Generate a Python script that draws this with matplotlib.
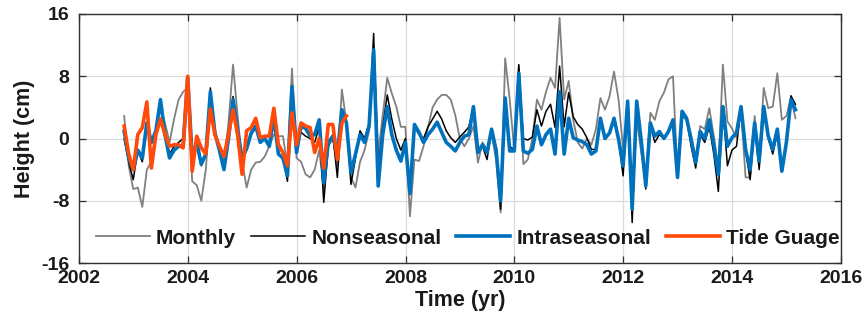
import numpy as np
import matplotlib
matplotlib.use("Agg")
import matplotlib.pyplot as plt

plt.rcParams['font.family'] = ['Liberation Sans', 'DejaVu Sans']
plt.rcParams['axes.unicode_minus'] = False

# monthly sampling: first month and number of months
start_year = 2002.83
months_per_year = 12

monthly = [
    2.9, -3.5, -6.5, -6.3, -8.8, -4, -3, 1, 4, 2, -0.5, 2.5,
    5, 6, 6.5, -5.5, -6, -8, -4, 4.5, 1, -1, -3, 2,
    9.5, 3, -3, -6.3, -4, -3.1, -3, -2.3, -1, 0.5, 0.3, 0.3,
    -3.5, 9, -2.5, -3, -4.6, -5, -4, -1.5, -6.5, -1, 0, -3.5,
    6.3, 2, -5, -6.3, -3, -1.5, 1, 11, -2, 3, 7.8, 5.8,
    4.1, 1.5, 1.5, -10, -2.7, -2.9, -1, 1.5, 4, 5, 5.6, 5.6,
    5, 3, 0, -1, 0, 1.6, -3.1, -0.5, -1.5, 0.5, -2.7, -9.5,
    10.3, 5, -1.5, 9.3, -3.3, -2.7, 0, 5, 3.7, 6, 7.8, 6.5,
    15.5, 5, 7.4, 2.4, -0.5, -1.3, 0, -0.8, 1.2, 5.2, 3.7, 5.4,
    8.6, 5, -1.4, 3.7, -9, 2.4, -1.8, -5.7, 3.3, 2.4, 4.8, 5.9,
    7.6, 8, -4.8, 2.8, 2.4, 0.3, -2.9, 1.6, 1.2, 3.9, 0.3, -4,
    9.5, 2.2, 1.3, 0.1, 3.7, -5, -5, 2.9, -2.9, 6.5, 3.9, 4.1,
    8.4, 2.4, 2.9, 5.2, 2.6,
]

nonseasonal = [
    -0.1, -3, -5.3, -1.5, -3, 1.5, -0.5, 1, 5, 0.5, -2, -1,
    -0.5, 0, 7.8, -2.5, -1, -3.5, -2, 6.5, 1, -1.5, -3.8, 0.5,
    5.4, 1.5, -2.5, -1.5, 0.5, 1.5, -0.5, 0, -1, 2.5, -2, -2.5,
    -5.5, 6.5, -0.3, 0.8, 0.3, 0, -0.5, 1.5, -8.2, -1, 0.5, -5,
    3.5, 2, -5.9, -2.5, 1, 0, 2, 13.5, -4, 1.5, 5.6, 2.5,
    0, -1.5, 0, -7.2, 1.5, 0.5, 0, 1.5, 2.5, 3.5, 2.5, 1,
    0.1, -0.5, 0.2, 0.8, 1.5, 4, -1.5, -1, -2.7, 1, -1.5, -9.1,
    5, -1, -1.5, 9.5, 0, -0.2, 0.2, 3.7, 1.6, 3.5, 4.4, 1.4,
    9.3, 1.5, 5.9, 2.8, 1.8, 1.2, 0.1, -1.4, -1.4, 2.4, -0.1, 0.7,
    2.5, -0.2, -4.8, 4.8, -10.8, 4.8, -0.3, -6.5, 1.7, -0.5, 0.5, 0,
    0.8, 2.4, -5, 3.5, 2.4, -1, -3.8, 0.5, -0.5, 1.5, -2, -6.8,
    4, -3.5, -1.5, -1, 4, -1.5, -5.3, 1.5, -4, 4, 0, -2,
    0.8, -4.2, -0.5, 5.5, 4.4,
]

intraseasonal = [
    0.9, -2.5, -4, -1.5, -2.5, 2, -0.5, 1, 5, 0.5, -2.5, -1.5,
    -1, -1, 7.8, -2.5, -0.5, -3.3, -2, 6, 0.7, -1.5, -4, 0,
    5, 1, -2.5, -1.3, 0.7, 1.6, -0.5, 0, -1, 2.9, -2, -2.5,
    -4.8, 6.7, -1.8, 1.6, 1.3, 0.3, 0.5, 2.4, -5.7, -0.5, 0.3, -2,
    3.7, 2, -4.4, -2, 0.5, -0.5, 1.6, 11.4, -6.1, 0.5, 4.1, 0.5,
    -1.5, -2.9, -0.5, -7, 1.8, 0.8, -0.5, 0.5, 1.2, 2.1, 0.8, -0.5,
    -1, -1.6, -0.5, 0.3, 0.5, 4.1, -1.8, -0.8, -1.8, 1.2, -1.5, -8,
    5.2, -1.6, -1.6, 8.4, -1.6, -1.9, -1.4, 1.6, -0.8, 0.5, 1.2, -2,
    6, -2, 2.6, 0.1, -0.2, -0.4, -0.8, -2, -1.6, 2.6, 0, 0.7,
    2.6, -0.1, -3.5, 4.8, -9.1, 4.8, -0.3, -6.1, 2, 0.3, 0.9, 0,
    0.9, 2.4, -5, 3.5, 2.6, -0.1, -3.1, 0.9, 0, 2.4, -0.8, -4.6,
    4.1, -1, 0.1, 0.7, 4.1, -1.4, -4, 2, -2.9, 4.1, 0.3, -1.4,
    1.2, -4.2, -0.5, 5, 3.7,
]

tide_gauge = [
    1.6, -2, -4, 0.5, 1.4, 4.7, -3.8, 0.5, 2.5, 0.5, -1, -0.8,
    -0.8, -1.2, 8, -4.2, 0.3, -1.2, -2, 3.8, 0.5, -1, -2.3, 0.5,
    3.7, 0.5, -4.6, 1, 1.4, 2.6, 0.1, 0.3, 0.3, 3.9, -0.8, -1.8,
    -3.5, 3.3, -0.8, 2, 1.6, 1.4, -1.8, 0, -3.8, 1.8, 1.8, -2.7,
    2, 2.9,
]

labels = ['Monthly', 'Nonseasonal', 'Intraseasonal', 'Tide Guage']
xticks = [2002, 2004, 2006, 2008, 2010, 2012, 2014, 2016]
yticks = [-16, -8, 0, 8, 16]

t_sat = start_year + np.arange(len(monthly)) / months_per_year
t_tide = start_year + np.arange(len(tide_gauge)) / months_per_year

fig = plt.figure(figsize=(8.64, 3.28), dpi=100)
ax = fig.add_axes([79/864, 1-263/328, (841-79)/864, (263-14)/328])

ax.plot(t_sat, monthly, color='#808080', lw=1.3, label=labels[0])
ax.plot(t_sat, nonseasonal, color='#000000', lw=1.1, label=labels[1])
ax.plot(t_sat, intraseasonal, color='#0072BD', lw=2.6, label=labels[2])
ax.plot(t_tide, tide_gauge, color='#FF4A0A', lw=2.6, label=labels[3])

ax.set_xlim(2002, 2016)
ax.set_ylim(-16, 16)
ax.set_xticks(xticks)
ax.set_yticks(yticks)
ax.set_xticklabels([str(v) for v in xticks])
ax.set_yticklabels([str(v) for v in yticks])
ax.grid(True, color='#dcdcdc', lw=0.9)
ax.set_axisbelow(True)
for s in ax.spines.values():
    s.set_color('#303030')
    s.set_linewidth(1.0)
ax.tick_params(direction='in', length=5, width=0.9, color='#303030',
               top=True, right=True, labelsize=14, pad=5)
ax.tick_params(axis='y', pad=7)
for lab in ax.get_xticklabels() + ax.get_yticklabels():
    lab.set_fontweight('bold')
    lab.set_color('#1a1a1a')

ax.set_xlabel('Time (yr)', fontsize=15.5, fontweight='bold', labelpad=2, color='#1a1a1a')
ax.set_ylabel('Height (cm)', fontsize=15.5, fontweight='bold', labelpad=4, color='#1a1a1a')

leg = ax.legend(loc='center', bbox_to_anchor=(0.51, 0.1), ncol=4, frameon=False,
                prop={'weight': 'bold', 'size': 15}, handlelength=2.6,
                handletextpad=0.3, columnspacing=0.7, borderaxespad=0)
for txt in leg.get_texts():
    txt.set_color('#1a1a1a')

fig.savefig('out.png', dpi=100)
